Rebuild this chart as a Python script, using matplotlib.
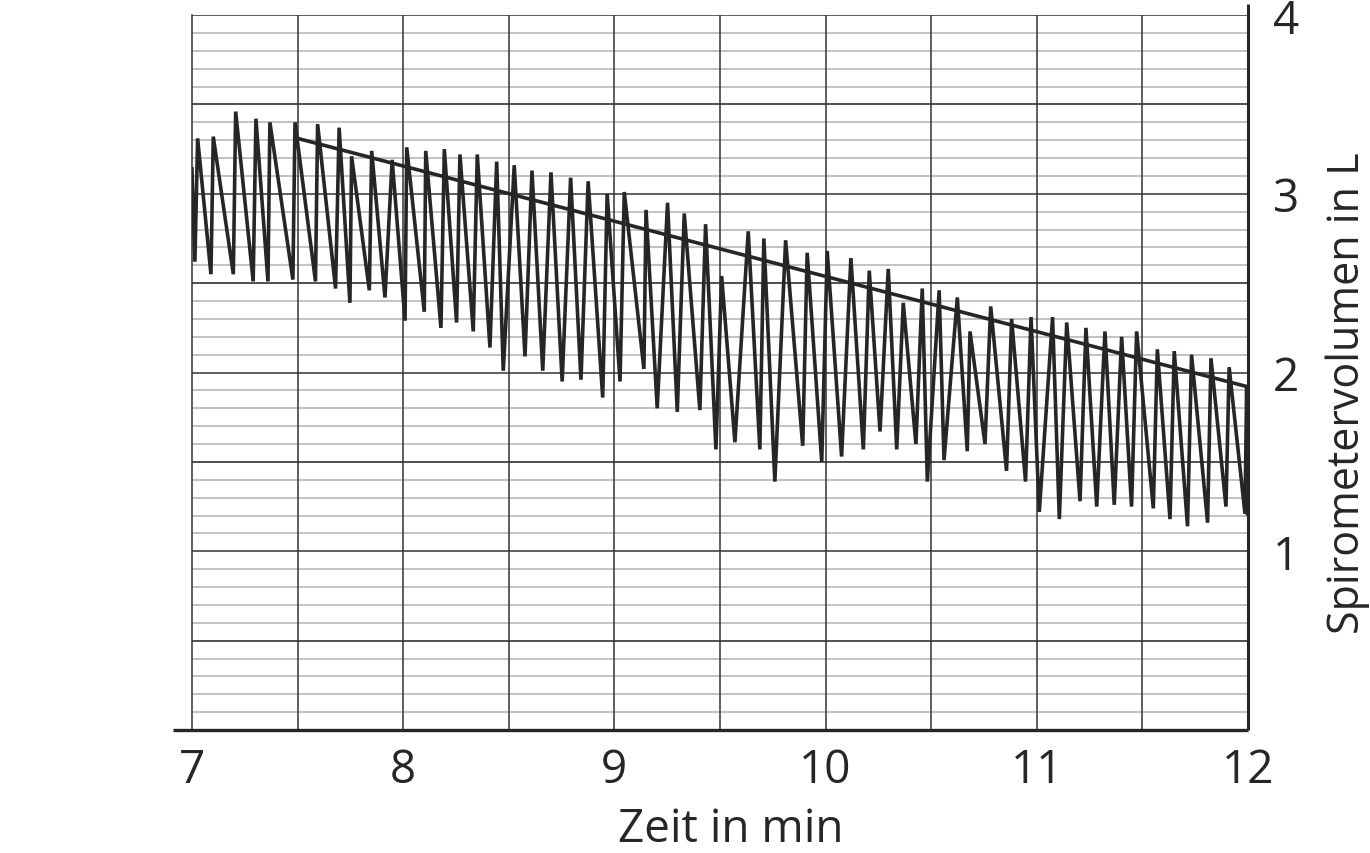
import matplotlib

matplotlib.use("Agg")
import matplotlib.pyplot as plt
from matplotlib.ticker import MultipleLocator

plt.rcParams["font.family"] = ["Open Sans", "DejaVu Sans"]

# Spirometer trace (time in min, volume in L), in drawing order
trace_t = [
    7.000,
    7.014, 7.027, 7.090, 7.101, 7.196, 7.207, 7.290, 7.303, 7.360, 7.369,
    7.478, 7.488, 7.585, 7.595, 7.680, 7.697, 7.748, 7.756, 7.840, 7.851,
    7.914, 7.948, 8.009, 8.017, 8.100, 8.107, 8.179, 8.195, 8.253, 8.269,
    8.332, 8.351, 8.411, 8.443, 8.474, 8.526, 8.577, 8.610, 8.661, 8.700,
    8.753, 8.793, 8.842, 8.876, 8.945, 8.966, 9.027, 9.047, 9.140, 9.150,
    9.203, 9.252, 9.298, 9.331, 9.405, 9.432, 9.481, 9.508, 9.571, 9.634,
    9.689, 9.708, 9.760, 9.811, 9.892, 9.913, 9.982, 10.008, 10.076, 10.120,
    10.179, 10.207, 10.258, 10.297, 10.337, 10.368, 10.428, 10.458, 10.482, 10.538,
    10.561, 10.624, 10.671, 10.684, 10.755, 10.782, 10.857, 10.881, 10.947, 10.973,
    11.012, 11.075, 11.107, 11.142, 11.205, 11.233, 11.284, 11.323, 11.367, 11.402,
    11.449, 11.473, 11.552, 11.571, 11.631, 11.651, 11.714, 11.733, 11.809, 11.825,
    11.896, 11.911, 11.986, 11.994,
    11.998,
]
trace_v = [
    3.14,
    2.62, 3.31, 2.55, 3.32, 2.55, 3.46, 2.51, 3.42, 2.51, 3.40,
    2.52, 3.40, 2.51, 3.39, 2.47, 3.37, 2.39, 3.21, 2.46, 3.24,
    2.42, 3.19, 2.29, 3.26, 2.34, 3.24, 2.25, 3.25, 2.28, 3.22,
    2.23, 3.22, 2.14, 3.18, 2.01, 3.16, 2.09, 3.13, 2.01, 3.12,
    1.95, 3.09, 1.96, 3.07, 1.86, 3.00, 1.95, 3.01, 2.02, 2.91,
    1.80, 2.95, 1.78, 2.89, 1.79, 2.83, 1.57, 2.54, 1.61, 2.79,
    1.57, 2.75, 1.39, 2.74, 1.59, 2.67, 1.50, 2.68, 1.53, 2.64,
    1.57, 2.57, 1.67, 2.58, 1.57, 2.39, 1.60, 2.47, 1.39, 2.46,
    1.51, 2.42, 1.56, 2.23, 1.60, 2.37, 1.45, 2.30, 1.39, 2.31,
    1.22, 2.31, 1.18, 2.28, 1.28, 2.25, 1.25, 2.23, 1.26, 2.20,
    1.25, 2.23, 1.24, 2.13, 1.18, 2.12, 1.14, 2.10, 1.16, 2.08,
    1.25, 2.03, 1.21, 1.92,
    1.21,
]

# straight line along the peaks
trend_t = [7.5, 12.0]
trend_v = [3.31, 1.92]

x_ticks = [7, 8, 9, 10, 11, 12]
y_ticks = [1, 2, 3, 4]

INK = "#262626"
GRID_DARK = "#333333"
GRID_LIGHT = "#bdbdbd"

fig = plt.figure(figsize=(13.7, 8.54), dpi=100)
ax = fig.add_axes([0.1401, 0.1440, 0.7708, 0.8372])
ax.set_xlim(7, 12)
ax.set_ylim(0, 4)

# graph paper
ax.yaxis.set_minor_locator(MultipleLocator(0.1))
ax.grid(which="minor", axis="y", color=GRID_LIGHT, linewidth=1.3)
ax.set_axisbelow(True)
for v in [7.5, 8, 8.5, 9, 9.5, 10, 10.5, 11, 11.5]:
    ax.axvline(v, color=GRID_DARK, linewidth=1.1, zorder=1)
for v in [0.5, 1, 1.5, 2, 2.5, 3, 3.5, 4]:
    ax.axhline(v, color=GRID_DARK, linewidth=1.1, zorder=1)

ax.plot(trace_t, trace_v, color=INK, linewidth=2.6, solid_joinstyle="miter", zorder=3)
ax.plot(trend_t, trend_v, color=INK, linewidth=2.6, solid_capstyle="butt", zorder=4)

for side in ("top", "left", "right", "bottom"):
    ax.spines[side].set_visible(False)

# frame: left edge, thick bottom axis sticking out left, thick right axis sticking out on top
ax.plot([0, 0], [0, 1], transform=ax.transAxes, color=GRID_DARK, linewidth=1.1, clip_on=False)
ax.plot([-0.018, 1.0], [0, 0], transform=ax.transAxes, color=INK, linewidth=2.4,
        solid_capstyle="butt", clip_on=False, zorder=5)
ax.plot([1.0, 1.0], [0, 1.0154], transform=ax.transAxes, color=INK, linewidth=2.2,
        solid_capstyle="butt", clip_on=False, zorder=5)

# tick labels only at whole numbers
ax.set_xticks(x_ticks)
ax.set_xticklabels([str(v) for v in x_ticks])
ax.set_yticks(y_ticks)
ax.set_yticklabels([str(v) for v in y_ticks])
ax.yaxis.tick_right()
ax.yaxis.set_label_position("right")
ax.tick_params(axis="both", which="both", length=0, labelsize=33, labelcolor=INK)
ax.tick_params(axis="x", pad=12)
ax.tick_params(axis="y", pad=18)

ax.set_xlabel("Zeit in min", fontsize=33, color=INK, labelpad=9.5)
ax.xaxis.label.set_x(0.5104)
ax.set_ylabel("Spirometervolumen in L", fontsize=31, color=INK, labelpad=19)
ax.yaxis.label.set_y(0.473)

fig.savefig("out.png", dpi=100)
